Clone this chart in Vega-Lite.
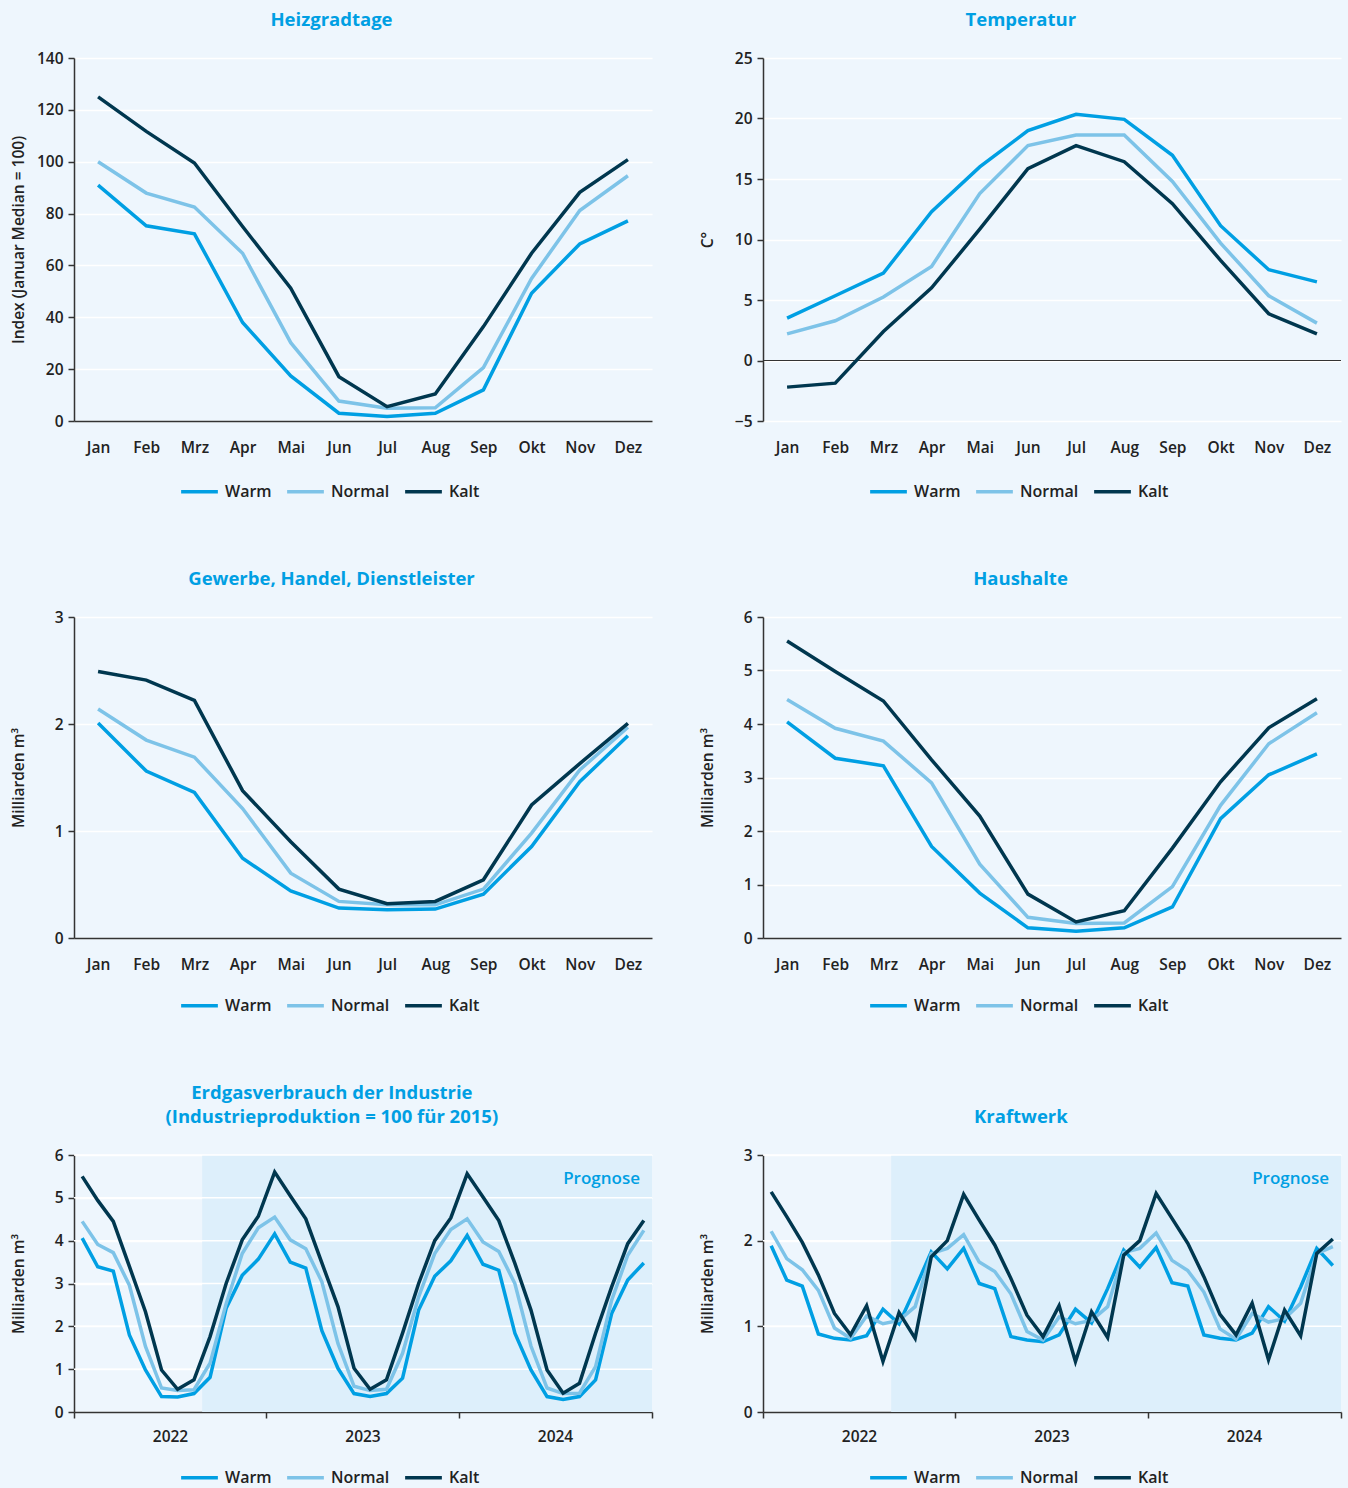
{
  "$schema": "https://vega.github.io/schema/vega-lite/v6.json",
  "background": "#EEF6FD",
  "padding": {"left": 11, "top": 10, "right": 6, "bottom": 2},
  "columns": 2,
  "spacing": {"row": 69, "column": 47},
  "resolve": {
    "scale": {"x": "independent", "y": "independent", "color": "independent"},
    "legend": {"color": "independent"}
  },
  "datasets": {
    "heiz": [
      {"monat": "Jan", "Warm": 91, "Normal": 100, "Kalt": 125},
      {"monat": "Feb", "Warm": 75.3, "Normal": 87.9, "Kalt": 111.7},
      {"monat": "Mrz", "Warm": 72.2, "Normal": 82.5, "Kalt": 99.5},
      {"monat": "Apr", "Warm": 38, "Normal": 64.7, "Kalt": 75},
      {"monat": "Mai", "Warm": 17.4, "Normal": 30.2, "Kalt": 51.2},
      {"monat": "Jun", "Warm": 3, "Normal": 7.7, "Kalt": 17.1},
      {"monat": "Jul", "Warm": 1.7, "Normal": 4.9, "Kalt": 5.5},
      {"monat": "Aug", "Warm": 3, "Normal": 5.1, "Kalt": 10.4},
      {"monat": "Sep", "Warm": 12, "Normal": 20.6, "Kalt": 36.4},
      {"monat": "Okt", "Warm": 49.3, "Normal": 55, "Kalt": 64.7},
      {"monat": "Nov", "Warm": 68.3, "Normal": 81.2, "Kalt": 88.2},
      {"monat": "Dez", "Warm": 77.2, "Normal": 94.6, "Kalt": 100.8}
    ],
    "temp": [
      {"monat": "Jan", "Warm": 3.5, "Normal": 2.2, "Kalt": -2.2},
      {"monat": "Feb", "Warm": 5.35, "Normal": 3.28, "Kalt": -1.87},
      {"monat": "Mrz", "Warm": 7.22, "Normal": 5.24, "Kalt": 2.4},
      {"monat": "Apr", "Warm": 12.3, "Normal": 7.78, "Kalt": 6.0},
      {"monat": "Mai", "Warm": 16.0, "Normal": 13.8, "Kalt": 10.86},
      {"monat": "Jun", "Warm": 19.0, "Normal": 17.76, "Kalt": 15.85},
      {"monat": "Jul", "Warm": 20.35, "Normal": 18.64, "Kalt": 17.76},
      {"monat": "Aug", "Warm": 19.93, "Normal": 18.64, "Kalt": 16.43},
      {"monat": "Sep", "Warm": 16.96, "Normal": 14.8, "Kalt": 12.96},
      {"monat": "Okt", "Warm": 11.14, "Normal": 9.7, "Kalt": 8.27},
      {"monat": "Nov", "Warm": 7.5, "Normal": 5.35, "Kalt": 3.86},
      {"monat": "Dez", "Warm": 6.5, "Normal": 3.09, "Kalt": 2.2}
    ],
    "ghd": [
      {"monat": "Jan", "Warm": 2.01, "Normal": 2.14, "Kalt": 2.49},
      {"monat": "Feb", "Warm": 1.56, "Normal": 1.85, "Kalt": 2.41},
      {"monat": "Mrz", "Warm": 1.36, "Normal": 1.69, "Kalt": 2.22},
      {"monat": "Apr", "Warm": 0.746, "Normal": 1.21, "Kalt": 1.377},
      {"monat": "Mai", "Warm": 0.44, "Normal": 0.606, "Kalt": 0.9},
      {"monat": "Jun", "Warm": 0.28, "Normal": 0.342, "Kalt": 0.457},
      {"monat": "Jul", "Warm": 0.264, "Normal": 0.31, "Kalt": 0.32},
      {"monat": "Aug", "Warm": 0.27, "Normal": 0.31, "Kalt": 0.342},
      {"monat": "Sep", "Warm": 0.41, "Normal": 0.457, "Kalt": 0.544},
      {"monat": "Okt", "Warm": 0.855, "Normal": 0.98, "Kalt": 1.243},
      {"monat": "Nov", "Warm": 1.46, "Normal": 1.57, "Kalt": 1.63},
      {"monat": "Dez", "Warm": 1.89, "Normal": 1.97, "Kalt": 2.005}
    ],
    "hh": [
      {"monat": "Jan", "Warm": 4.04, "Normal": 4.46, "Kalt": 5.55},
      {"monat": "Feb", "Warm": 3.36, "Normal": 3.92, "Kalt": 4.98},
      {"monat": "Mrz", "Warm": 3.22, "Normal": 3.68, "Kalt": 4.43},
      {"monat": "Apr", "Warm": 1.71, "Normal": 2.9, "Kalt": 3.33},
      {"monat": "Mai", "Warm": 0.84, "Normal": 1.38, "Kalt": 2.28},
      {"monat": "Jun", "Warm": 0.19, "Normal": 0.386, "Kalt": 0.82},
      {"monat": "Jul", "Warm": 0.124, "Normal": 0.27, "Kalt": 0.3},
      {"monat": "Aug", "Warm": 0.19, "Normal": 0.28, "Kalt": 0.51},
      {"monat": "Sep", "Warm": 0.58, "Normal": 0.96, "Kalt": 1.68},
      {"monat": "Okt", "Warm": 2.23, "Normal": 2.48, "Kalt": 2.92},
      {"monat": "Nov", "Warm": 3.05, "Normal": 3.63, "Kalt": 3.93},
      {"monat": "Dez", "Warm": 3.44, "Normal": 4.21, "Kalt": 4.47}
    ],
    "ind": [
      {"monat": "2022-01-01T00:00", "Warm": 4.06, "Normal": 4.45, "Kalt": 5.5},
      {"monat": "2022-02-01T00:00", "Warm": 3.39, "Normal": 3.91, "Kalt": 4.94},
      {"monat": "2022-03-01T00:00", "Warm": 3.29, "Normal": 3.72, "Kalt": 4.45},
      {"monat": "2022-04-01T00:00", "Warm": 1.8, "Normal": 2.96, "Kalt": 3.4},
      {"monat": "2022-05-01T00:00", "Warm": 0.98, "Normal": 1.53, "Kalt": 2.34},
      {"monat": "2022-06-01T00:00", "Warm": 0.36, "Normal": 0.56, "Kalt": 0.98},
      {"monat": "2022-07-01T00:00", "Warm": 0.35, "Normal": 0.5, "Kalt": 0.53},
      {"monat": "2022-08-01T00:00", "Warm": 0.43, "Normal": 0.52, "Kalt": 0.75},
      {"monat": "2022-09-01T00:00", "Warm": 0.81, "Normal": 1.14, "Kalt": 1.76},
      {"monat": "2022-10-01T00:00", "Warm": 2.42, "Normal": 2.53, "Kalt": 3.0},
      {"monat": "2022-11-01T00:00", "Warm": 3.19, "Normal": 3.7, "Kalt": 4.02},
      {"monat": "2022-12-01T00:00", "Warm": 3.57, "Normal": 4.3, "Kalt": 4.57},
      {"monat": "2023-01-01T00:00", "Warm": 4.16, "Normal": 4.55, "Kalt": 5.6},
      {"monat": "2023-02-01T00:00", "Warm": 3.5, "Normal": 4.02, "Kalt": 5.05},
      {"monat": "2023-03-01T00:00", "Warm": 3.36, "Normal": 3.81, "Kalt": 4.51},
      {"monat": "2023-04-01T00:00", "Warm": 1.9, "Normal": 3.04, "Kalt": 3.48},
      {"monat": "2023-05-01T00:00", "Warm": 1.02, "Normal": 1.6, "Kalt": 2.46},
      {"monat": "2023-06-01T00:00", "Warm": 0.43, "Normal": 0.6, "Kalt": 1.02},
      {"monat": "2023-07-01T00:00", "Warm": 0.36, "Normal": 0.5, "Kalt": 0.53},
      {"monat": "2023-08-01T00:00", "Warm": 0.43, "Normal": 0.53, "Kalt": 0.75},
      {"monat": "2023-09-01T00:00", "Warm": 0.79, "Normal": 1.37, "Kalt": 1.84},
      {"monat": "2023-10-01T00:00", "Warm": 2.38, "Normal": 2.69, "Kalt": 3.0},
      {"monat": "2023-11-01T00:00", "Warm": 3.17, "Normal": 3.7, "Kalt": 4.0},
      {"monat": "2023-12-01T00:00", "Warm": 3.53, "Normal": 4.26, "Kalt": 4.53},
      {"monat": "2024-01-01T00:00", "Warm": 4.12, "Normal": 4.51, "Kalt": 5.56},
      {"monat": "2024-02-01T00:00", "Warm": 3.45, "Normal": 3.97, "Kalt": 5.02},
      {"monat": "2024-03-01T00:00", "Warm": 3.31, "Normal": 3.75, "Kalt": 4.47},
      {"monat": "2024-04-01T00:00", "Warm": 1.84, "Normal": 3.0, "Kalt": 3.47},
      {"monat": "2024-05-01T00:00", "Warm": 0.98, "Normal": 1.54, "Kalt": 2.38},
      {"monat": "2024-06-01T00:00", "Warm": 0.36, "Normal": 0.56, "Kalt": 0.98},
      {"monat": "2024-07-01T00:00", "Warm": 0.29, "Normal": 0.43, "Kalt": 0.44},
      {"monat": "2024-08-01T00:00", "Warm": 0.36, "Normal": 0.44, "Kalt": 0.67},
      {"monat": "2024-09-01T00:00", "Warm": 0.75, "Normal": 1.06, "Kalt": 1.84},
      {"monat": "2024-10-01T00:00", "Warm": 2.3, "Normal": 2.61, "Kalt": 2.92},
      {"monat": "2024-11-01T00:00", "Warm": 3.08, "Normal": 3.66, "Kalt": 3.93},
      {"monat": "2024-12-01T00:00", "Warm": 3.48, "Normal": 4.24, "Kalt": 4.47}
    ],
    "kw": [
      {"monat": "2022-01-01T00:00", "Warm": 1.94, "Normal": 2.11, "Kalt": 2.57},
      {"monat": "2022-02-01T00:00", "Warm": 1.54, "Normal": 1.79, "Kalt": 2.28},
      {"monat": "2022-03-01T00:00", "Warm": 1.47, "Normal": 1.66, "Kalt": 1.98},
      {"monat": "2022-04-01T00:00", "Warm": 0.91, "Normal": 1.42, "Kalt": 1.6},
      {"monat": "2022-05-01T00:00", "Warm": 0.86, "Normal": 0.98, "Kalt": 1.15},
      {"monat": "2022-06-01T00:00", "Warm": 0.84, "Normal": 0.86, "Kalt": 0.9},
      {"monat": "2022-07-01T00:00", "Warm": 0.89, "Normal": 1.12, "Kalt": 1.24},
      {"monat": "2022-08-01T00:00", "Warm": 1.2, "Normal": 1.03, "Kalt": 0.59},
      {"monat": "2022-09-01T00:00", "Warm": 1.03, "Normal": 1.07, "Kalt": 1.16},
      {"monat": "2022-10-01T00:00", "Warm": 1.44, "Normal": 1.23, "Kalt": 0.86},
      {"monat": "2022-11-01T00:00", "Warm": 1.87, "Normal": 1.85, "Kalt": 1.81},
      {"monat": "2022-12-01T00:00", "Warm": 1.67, "Normal": 1.91, "Kalt": 2.0},
      {"monat": "2023-01-01T00:00", "Warm": 1.91, "Normal": 2.07, "Kalt": 2.54},
      {"monat": "2023-02-01T00:00", "Warm": 1.5, "Normal": 1.75, "Kalt": 2.24},
      {"monat": "2023-03-01T00:00", "Warm": 1.44, "Normal": 1.64, "Kalt": 1.95},
      {"monat": "2023-04-01T00:00", "Warm": 0.88, "Normal": 1.38, "Kalt": 1.56},
      {"monat": "2023-05-01T00:00", "Warm": 0.84, "Normal": 0.94, "Kalt": 1.13},
      {"monat": "2023-06-01T00:00", "Warm": 0.82, "Normal": 0.84, "Kalt": 0.88},
      {"monat": "2023-07-01T00:00", "Warm": 0.9, "Normal": 1.11, "Kalt": 1.24},
      {"monat": "2023-08-01T00:00", "Warm": 1.2, "Normal": 1.03, "Kalt": 0.59},
      {"monat": "2023-09-01T00:00", "Warm": 1.04, "Normal": 1.07, "Kalt": 1.17},
      {"monat": "2023-10-01T00:00", "Warm": 1.44, "Normal": 1.23, "Kalt": 0.87},
      {"monat": "2023-11-01T00:00", "Warm": 1.89, "Normal": 1.86, "Kalt": 1.83},
      {"monat": "2023-12-01T00:00", "Warm": 1.69, "Normal": 1.91, "Kalt": 2.0},
      {"monat": "2024-01-01T00:00", "Warm": 1.92, "Normal": 2.09, "Kalt": 2.55},
      {"monat": "2024-02-01T00:00", "Warm": 1.51, "Normal": 1.77, "Kalt": 2.26},
      {"monat": "2024-03-01T00:00", "Warm": 1.47, "Normal": 1.65, "Kalt": 1.97},
      {"monat": "2024-04-01T00:00", "Warm": 0.9, "Normal": 1.4, "Kalt": 1.58},
      {"monat": "2024-05-01T00:00", "Warm": 0.86, "Normal": 0.97, "Kalt": 1.14},
      {"monat": "2024-06-01T00:00", "Warm": 0.84, "Normal": 0.85, "Kalt": 0.9},
      {"monat": "2024-07-01T00:00", "Warm": 0.92, "Normal": 1.15, "Kalt": 1.27},
      {"monat": "2024-08-01T00:00", "Warm": 1.23, "Normal": 1.05, "Kalt": 0.61},
      {"monat": "2024-09-01T00:00", "Warm": 1.06, "Normal": 1.09, "Kalt": 1.19},
      {"monat": "2024-10-01T00:00", "Warm": 1.46, "Normal": 1.27, "Kalt": 0.89},
      {"monat": "2024-11-01T00:00", "Warm": 1.91, "Normal": 1.85, "Kalt": 1.85},
      {"monat": "2024-12-01T00:00", "Warm": 1.71, "Normal": 1.93, "Kalt": 2.02}
    ]
  },
  "concat": [
    {
      "title": "Heizgradtage",
      "width": 578, "height": 363,
      "data": {"name": "heiz"},
      "transform": [{"fold": ["Warm", "Normal", "Kalt"], "as": ["szenario", "wert"]}],
      "mark": {"type": "line", "strokeWidth": 3.5},
      "encoding": {
        "x": {"field": "monat", "type": "ordinal", "sort": ["Jan","Feb","Mrz","Apr","Mai","Jun","Jul","Aug","Sep","Okt","Nov","Dez"],
              "axis": {"title": null, "labelAngle": 0, "ticks": false, "labelPadding": 19}},
        "y": {"field": "wert", "type": "quantitative", "scale": {"domain": [0, 140], "nice": false},
              "axis": {"title": "Index (Januar Median = 100)", "values": [0,20,40,60,80,100,120,140], "format": "d"}},
        "color": {"field": "szenario", "type": "nominal", "sort": ["Warm","Normal","Kalt"],
                  "scale": {"domain": ["Warm","Normal","Kalt"], "range": ["#009FE3","#7DC3E8","#00374F"]},
                  "legend": {"title": null, "legendY": 413}}
      }
    },
    {
      "title": "Temperatur",
      "width": 578, "height": 363,
      "layer": [
        {
          "data": {"values": [{}]},
          "mark": {"type": "rule", "color": "#333333", "strokeWidth": 1.2},
          "encoding": {"y": {"datum": 0, "type": "quantitative"}}
        },
        {
          "data": {"name": "temp"},
          "transform": [{"fold": ["Warm", "Normal", "Kalt"], "as": ["szenario", "wert"]}],
          "mark": {"type": "line", "strokeWidth": 3.5},
          "encoding": {
            "x": {"field": "monat", "type": "ordinal", "sort": ["Jan","Feb","Mrz","Apr","Mai","Jun","Jul","Aug","Sep","Okt","Nov","Dez"],
                  "axis": {"title": null, "labelAngle": 0, "ticks": false, "domain": false, "labelPadding": 19}},
            "y": {"field": "wert", "type": "quantitative", "scale": {"domain": [-5, 25], "nice": false},
                  "axis": {"title": "C°", "values": [-5,0,5,10,15,20,25], "format": "d"}},
            "color": {"field": "szenario", "type": "nominal", "sort": ["Warm","Normal","Kalt"],
                      "scale": {"domain": ["Warm","Normal","Kalt"], "range": ["#009FE3","#7DC3E8","#00374F"]},
                      "legend": {"title": null, "legendY": 413}}
          }
        }
      ]
    },
    {
      "title": "Gewerbe, Handel, Dienstleister",
      "width": 578, "height": 321,
      "data": {"name": "ghd"},
      "transform": [{"fold": ["Warm", "Normal", "Kalt"], "as": ["szenario", "wert"]}],
      "mark": {"type": "line", "strokeWidth": 3.5},
      "encoding": {
        "x": {"field": "monat", "type": "ordinal", "sort": ["Jan","Feb","Mrz","Apr","Mai","Jun","Jul","Aug","Sep","Okt","Nov","Dez"],
              "axis": {"title": null, "labelAngle": 0, "ticks": false, "labelPadding": 19}},
        "y": {"field": "wert", "type": "quantitative", "scale": {"domain": [0, 3], "nice": false},
              "axis": {"title": "Milliarden  m³", "values": [0,1,2,3], "format": "d"}},
        "color": {"field": "szenario", "type": "nominal", "sort": ["Warm","Normal","Kalt"],
                  "scale": {"domain": ["Warm","Normal","Kalt"], "range": ["#009FE3","#7DC3E8","#00374F"]},
                  "legend": {"title": null, "legendY": 368}}
      }
    },
    {
      "title": "Haushalte",
      "width": 578, "height": 321,
      "data": {"name": "hh"},
      "transform": [{"fold": ["Warm", "Normal", "Kalt"], "as": ["szenario", "wert"]}],
      "mark": {"type": "line", "strokeWidth": 3.5},
      "encoding": {
        "x": {"field": "monat", "type": "ordinal", "sort": ["Jan","Feb","Mrz","Apr","Mai","Jun","Jul","Aug","Sep","Okt","Nov","Dez"],
              "axis": {"title": null, "labelAngle": 0, "ticks": false, "labelPadding": 19}},
        "y": {"field": "wert", "type": "quantitative", "scale": {"domain": [0, 6], "nice": false},
              "axis": {"title": "Milliarden  m³", "values": [0,1,2,3,4,5,6], "format": "d"}},
        "color": {"field": "szenario", "type": "nominal", "sort": ["Warm","Normal","Kalt"],
                  "scale": {"domain": ["Warm","Normal","Kalt"], "range": ["#009FE3","#7DC3E8","#00374F"]},
                  "legend": {"title": null, "legendY": 368}}
      }
    },
    {
      "title": {"text": ["Erdgasverbrauch der Industrie", "(Industrieproduktion = 100 für 2015)"]},
      "width": 578, "height": 257,
      "layer": [
        {
          "data": {"values": [{}]},
          "mark": {"type": "rect", "color": "#DDEFFB"},
          "encoding": {
            "x": {"datum": {"year": 2022, "month": 9, "date": 1}, "type": "temporal"},
            "x2": {"datum": {"year": 2025, "month": 1, "date": 1}},
            "y": {"datum": 0, "type": "quantitative"},
            "y2": {"datum": 6}
          }
        },
        {"data": {"values": [{}]}, "mark": {"type": "rule", "color": "#FFFFFF", "strokeWidth": 1.5}, "encoding": {"y": {"datum": 1, "type": "quantitative"}}},
        {"data": {"values": [{}]}, "mark": {"type": "rule", "color": "#FFFFFF", "strokeWidth": 1.5}, "encoding": {"y": {"datum": 2, "type": "quantitative"}}},
        {"data": {"values": [{}]}, "mark": {"type": "rule", "color": "#FFFFFF", "strokeWidth": 1.5}, "encoding": {"y": {"datum": 3, "type": "quantitative"}}},
        {"data": {"values": [{}]}, "mark": {"type": "rule", "color": "#FFFFFF", "strokeWidth": 1.5}, "encoding": {"y": {"datum": 4, "type": "quantitative"}}},
        {"data": {"values": [{}]}, "mark": {"type": "rule", "color": "#FFFFFF", "strokeWidth": 1.5}, "encoding": {"y": {"datum": 5, "type": "quantitative"}}},
        {"data": {"values": [{}]}, "mark": {"type": "rule", "color": "#FFFFFF", "strokeWidth": 1.5}, "encoding": {"y": {"datum": 6, "type": "quantitative"}}},
        {
          "data": {"name": "ind"},
          "transform": [{"fold": ["Warm", "Normal", "Kalt"], "as": ["szenario", "wert"]}],
          "mark": {"type": "line", "strokeWidth": 3.5},
          "encoding": {
            "x": {"field": "monat", "type": "temporal", "timeUnit": "yearmonth", "bandPosition": 0.5,
                  "scale": {"domain": [{"year": 2022, "month": 1, "date": 1}, {"year": 2025, "month": 1, "date": 1}], "nice": false},
                  "axis": {"title": null, "values": [{"year": 2022, "month": 1, "date": 1}, {"year": 2023, "month": 1, "date": 1}, {"year": 2024, "month": 1, "date": 1}, {"year": 2025, "month": 1, "date": 1}],
                           "labelExpr": "year(datum.value) < 2025 ? '' + year(datum.value) : ''",
                           "labelOffset": {"condition": {"test": "year(datum.value) >= 2025", "value": 0}, "value": 96},
                           "tickSize": 6, "labelPadding": 11, "labelFlush": false, "labelOverlap": false, "labelBound": false, "labelAngle": 0}},
            "y": {"field": "wert", "type": "quantitative", "scale": {"domain": [0, 6], "nice": false},
                  "axis": {"title": "Milliarden  m³", "values": [0,1,2,3,4,5,6], "format": "d"}},
            "color": {"field": "szenario", "type": "nominal", "sort": ["Warm","Normal","Kalt"],
                      "scale": {"domain": ["Warm","Normal","Kalt"], "range": ["#009FE3","#7DC3E8","#00374F"]},
                      "legend": {"title": null, "legendY": 302}}
          }
        },
        {
          "data": {"values": [{}]},
          "mark": {"type": "text", "text": "Prognose", "align": "right", "baseline": "middle", "dx": -12, "fontSize": 17, "fontWeight": 600, "color": "#009FE3"},
          "encoding": {
            "x": {"datum": {"year": 2025, "month": 1, "date": 1}, "type": "temporal"},
            "y": {"datum": 5.45, "type": "quantitative"}
          }
        }
      ]
    },
    {
      "title": "Kraftwerk",
      "width": 578, "height": 257,
      "layer": [
        {
          "data": {"values": [{}]},
          "mark": {"type": "rect", "color": "#DDEFFB"},
          "encoding": {
            "x": {"datum": {"year": 2022, "month": 9, "date": 1}, "type": "temporal"},
            "x2": {"datum": {"year": 2025, "month": 1, "date": 1}},
            "y": {"datum": 0, "type": "quantitative"},
            "y2": {"datum": 3}
          }
        },
        {"data": {"values": [{}]}, "mark": {"type": "rule", "color": "#FFFFFF", "strokeWidth": 1.5}, "encoding": {"y": {"datum": 1, "type": "quantitative"}}},
        {"data": {"values": [{}]}, "mark": {"type": "rule", "color": "#FFFFFF", "strokeWidth": 1.5}, "encoding": {"y": {"datum": 2, "type": "quantitative"}}},
        {"data": {"values": [{}]}, "mark": {"type": "rule", "color": "#FFFFFF", "strokeWidth": 1.5}, "encoding": {"y": {"datum": 3, "type": "quantitative"}}},
        {
          "data": {"name": "kw"},
          "transform": [{"fold": ["Warm", "Normal", "Kalt"], "as": ["szenario", "wert"]}],
          "mark": {"type": "line", "strokeWidth": 3.5},
          "encoding": {
            "x": {"field": "monat", "type": "temporal", "timeUnit": "yearmonth", "bandPosition": 0.5,
                  "scale": {"domain": [{"year": 2022, "month": 1, "date": 1}, {"year": 2025, "month": 1, "date": 1}], "nice": false},
                  "axis": {"title": null, "values": [{"year": 2022, "month": 1, "date": 1}, {"year": 2023, "month": 1, "date": 1}, {"year": 2024, "month": 1, "date": 1}, {"year": 2025, "month": 1, "date": 1}],
                           "labelExpr": "year(datum.value) < 2025 ? '' + year(datum.value) : ''",
                           "labelOffset": {"condition": {"test": "year(datum.value) >= 2025", "value": 0}, "value": 96},
                           "tickSize": 6, "labelPadding": 11, "labelFlush": false, "labelOverlap": false, "labelBound": false, "labelAngle": 0}},
            "y": {"field": "wert", "type": "quantitative", "scale": {"domain": [0, 3], "nice": false},
                  "axis": {"title": "Milliarden  m³", "values": [0,1,2,3], "format": "d"}},
            "color": {"field": "szenario", "type": "nominal", "sort": ["Warm","Normal","Kalt"],
                      "scale": {"domain": ["Warm","Normal","Kalt"], "range": ["#009FE3","#7DC3E8","#00374F"]},
                      "legend": {"title": null, "legendY": 302}}
          }
        },
        {
          "data": {"values": [{}]},
          "mark": {"type": "text", "text": "Prognose", "align": "right", "baseline": "middle", "dx": -12, "fontSize": 17, "fontWeight": 600, "color": "#009FE3"},
          "encoding": {
            "x": {"datum": {"year": 2025, "month": 1, "date": 1}, "type": "temporal"},
            "y": {"datum": 2.72, "type": "quantitative"}
          }
        }
      ]
    }
  ],
  "config": {
    "font": "Open Sans",
    "view": {"stroke": null},
    "title": {"fontSize": 18.5, "fontWeight": "bold", "color": "#009FE3", "anchor": "middle", "frame": "bounds", "offset": 22, "lineHeight": 24},
    "axis": {
      "labelFontSize": 15.5, "labelFontWeight": 600, "labelColor": "#222222",
      "titleFontSize": 15.5, "titleFontWeight": 600, "titleColor": "#222222",
      "domainColor": "#333333", "domainWidth": 1.5, "tickColor": "#333333", "tickWidth": 1.5,
      "gridColor": "#FFFFFF", "gridWidth": 1.5
    },
    "axisY": {"grid": true, "tickSize": 6, "labelPadding": 5, "titleX": -48},
    "axisX": {"grid": false},
    "legend": {
      "orient": "none", "legendX": 105, "direction": "horizontal", "symbolType": "stroke", "symbolStrokeWidth": 6,
      "symbolSize": 1350, "labelFontSize": 16, "labelFontWeight": 600, "labelColor": "#222222",
      "columnPadding": 8, "labelOffset": 5
    },
    "line": {"strokeWidth": 3.5}
  }
}
